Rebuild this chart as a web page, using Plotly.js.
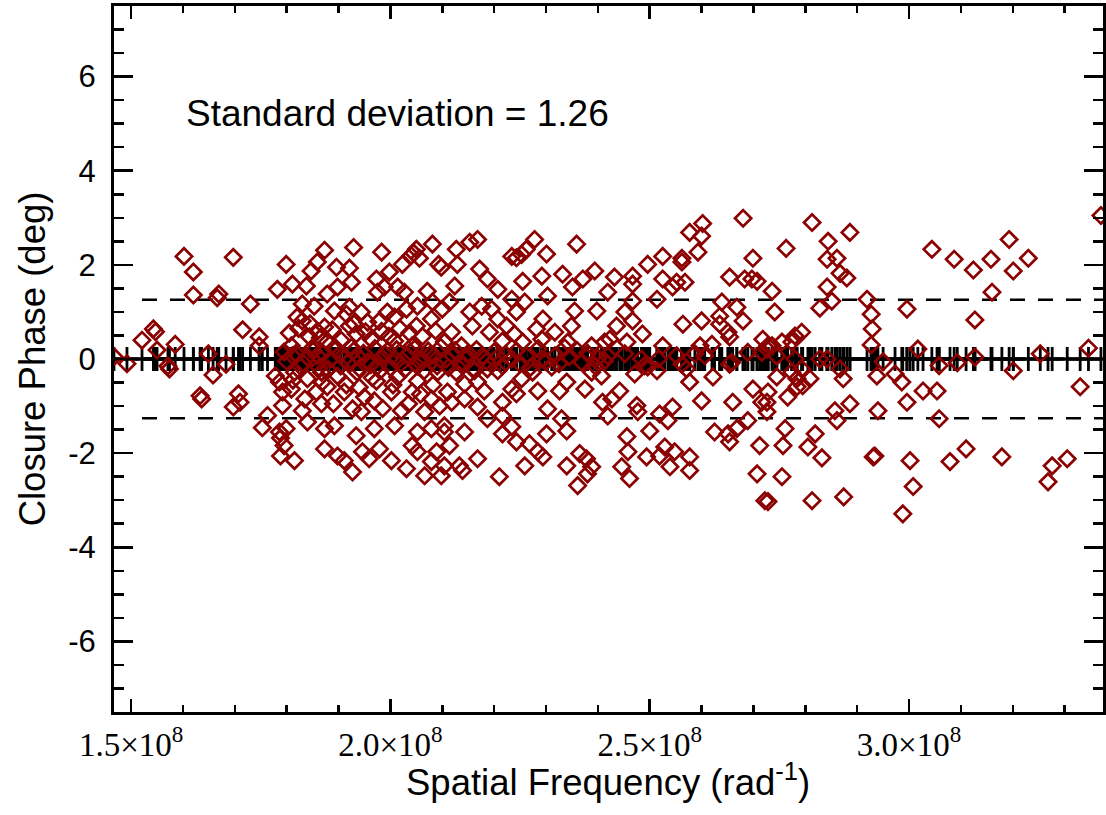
<!DOCTYPE html>
<html>
<head>
<meta charset="utf-8">
<script src="https://cdn.plot.ly/plotly-3.0.1.min.js"></script>
<style>html,body{margin:0;padding:0;background:#fff;}#chart{width:1106px;height:815px;}</style>
</head>
<body>
<div id="chart"></div>
<script>
// Spatial frequency in units of 1e8 rad^-1, closure phase in degrees
const freq = [
1.467,1.492,1.521,1.543,1.547,1.550,1.571,1.574,1.585,1.602,
1.620,1.620,1.633,1.636,1.649,1.658,1.666,1.669,1.683,1.697,
1.697,1.707,1.710,1.715,1.730,1.747,1.747,1.753,1.763,1.782,
1.786,1.788,1.788,1.778,1.786,1.792,1.792,1.799,1.795,
1.873,1.929,1.983,2.050,2.045,2.040,2.056,2.081,2.093,2.098,
1.859,1.847,1.896,1.921,1.811,1.838,1.878,1.898,1.925,1.973,
1.998,2.023,1.975,1.988,2.014,2.027,2.071,1.830,1.853,1.820,
1.830,1.859,1.873,1.892,1.915,1.944,1.921,1.956,1.994,2.008,
2.031,2.052,2.081,2.100,2.079,2.050,1.983,1.921,1.934,1.844,
1.809,1.878,1.963,2.008,2.042,2.104,
1.811,1.840,1.859,1.885,1.911,1.936,1.956,1.983,2.008,2.033,
2.060,2.085,2.108,1.851,1.929,1.994,2.073,1.826,1.904,1.975,
2.052,
1.815,1.840,1.867,1.898,1.936,1.973,2.014,2.052,2.091,1.809,
1.857,1.878,1.911,1.950,1.969,2.002,2.042,2.079,1.830,1.867,
1.927,1.944,2.021,2.066,1.799,1.840,1.873,1.892,1.934,1.969,
2.008,2.052,2.079,2.104,1.873,1.898,1.911,1.927,1.946,1.959,
1.979,1.815,2.002,2.031,2.042,2.052,2.066,2.079,2.098,2.089,
1.795,
2.168,2.153,2.127,2.129,2.172,2.234,2.243,2.253,2.262,2.278,
2.301,2.359,2.292,2.255,2.187,2.207,2.332,2.371,2.394,2.351,
2.303,2.259,2.234,2.114,2.124,2.176,2.195,2.243,2.355,2.398,
2.153,2.158,2.207,2.224,2.294,2.282,2.317,2.349,2.118,2.191,
2.239,2.216,2.255,2.292,2.342,2.388,2.413,2.137,
2.120,2.146,2.178,2.207,2.234,2.262,2.292,2.317,2.369,2.394,
2.413,2.166,2.243,2.336,2.139,2.216,
2.127,2.162,2.187,2.207,2.274,2.311,2.388,2.407,2.143,2.168,
2.181,2.253,2.234,2.243,2.284,2.340,2.326,2.375,2.409,2.110,
2.118,2.143,2.168,2.216,2.303,2.187,2.216,2.330,2.104,2.143,
2.234,2.114,2.216,2.243,2.268,2.284,2.294,2.301,2.340,2.168,
2.133,2.139,2.210,2.259,2.340,2.365,2.378,2.388,2.380,2.361,
2.104,
2.680,2.602,2.577,2.600,2.593,2.699,2.525,2.562,2.562,2.496,
2.432,2.467,2.467,2.525,2.544,2.568,2.552,2.654,2.683,2.697,
2.707,2.419,2.467,2.514,2.639,2.668,2.452,2.467,2.436,2.564,
2.600,2.635,2.635,2.651,2.654,2.680,2.486,2.525,2.456,2.423,
2.597,2.620,2.718,2.728,
2.419,2.452,2.484,2.517,2.552,2.587,2.606,2.658,2.689,2.716,
2.490,2.562,
2.471,2.496,2.514,2.571,2.622,2.654,2.577,2.442,2.427,2.419,
2.475,2.477,2.519,2.544,2.535,2.600,2.660,2.699,2.716,2.689,
2.625,2.651,2.668,2.654,2.500,2.456,2.458,2.494,2.519,2.529,
2.548,2.539,2.577,2.577,2.446,2.461,2.712,2.707,2.722,
2.813,2.886,2.763,2.844,2.842,2.861,2.867,2.880,2.842,2.851,
2.736,2.828,2.741,2.919,2.927,2.929,2.927,2.996,3.017,3.044,
2.780,2.793,2.755,2.736,2.726,2.774,2.745,2.780,2.828,2.842,
2.867,2.950,2.774,2.793,2.745,2.784,2.809,2.795,2.784,2.873,
2.938,2.973,2.986,3.027,2.728,2.726,2.766,2.886,2.857,2.861,
2.940,2.996,2.726,2.761,2.819,2.757,2.805,2.832,2.934,2.931,
3.002,3.008,2.755,2.728,2.813,2.874,2.988,
3.087,3.124,3.158,3.193,3.201,3.230,3.160,3.127,3.370,3.058,
3.093,3.127,3.201,3.253,3.346,3.054,3.330,3.058,3.079,3.110,
3.179,3.276,3.268,3.305,
1.800,1.818,1.833,1.848,1.862,1.870,1.880,1.893,1.902,1.918,
1.925,1.940,1.948,1.962,1.970,1.980,1.990,2.000,2.012,2.020,
2.028,2.038,2.047,2.058,2.065,2.077,2.090,2.097,2.112,2.125,
2.135,2.150,2.160,2.185,2.200,2.222,2.250,2.270,2.285,2.300,
2.325,2.345,2.360,2.380,2.400,
1.805,1.823,1.845,1.865,1.888,1.905,1.930,1.952,1.978,1.997,
2.018,2.037,2.062,2.087,
1.812,1.835,1.868,1.890,1.915,1.940,1.965,1.985,2.005,2.035,
2.058,2.082,2.095
];
const phase = [
0.05,-0.10,0.40,0.64,0.58,0.19,-0.15,-0.21,0.31,2.18,
1.85,1.36,-0.78,-0.85,0.11,-0.34,1.30,1.38,-0.11,2.16,
-1.02,-0.74,-0.92,0.62,1.17,0.47,0.28,-1.46,-1.20,1.48,
-1.55,-1.68,-2.06,-0.36,-0.49,-0.70,-0.99,2.01,0.15,
2.31,2.37,2.27,2.33,2.25,2.20,2.14,2.44,2.01,1.95,
2.06,1.87,1.95,1.93,1.59,1.55,1.38,1.53,1.63,1.70,
1.85,2.01,1.42,1.53,1.53,1.42,1.44,1.17,1.12,0.89,
0.81,0.59,0.68,1.02,0.95,1.00,1.10,0.78,1.00,0.89,
1.06,1.12,1.21,1.06,0.85,0.70,0.59,0.70,0.53,0.47,
0.28,0.36,0.42,0.38,0.28,0.36,
0.07,0.04,0.07,0.00,0.00,0.07,-0.07,0.04,0.00,0.07,
0.00,0.07,0.00,0.17,0.17,0.17,0.17,-0.15,-0.15,-0.15,
-0.15,
-0.28,-0.42,-0.28,-0.36,-0.28,-0.47,-0.38,-0.47,-0.28,-0.64,
-0.70,-0.59,-0.70,-0.81,-0.89,-0.70,-0.70,-0.85,-1.10,-0.95,
-1.06,-1.12,-1.10,-1.12,-1.48,-1.34,-1.48,-1.42,-1.63,-1.48,
-1.42,-1.55,-1.48,-1.55,-1.91,-2.06,-2.16,-2.40,-1.97,-2.12,
-1.91,-2.16,-2.16,-2.33,-1.84,-1.97,-2.48,-2.18,-2.48,-1.97,
-1.84,
2.54,2.48,2.33,2.01,1.91,2.18,2.15,2.22,2.33,2.54,
2.23,2.44,1.76,1.65,1.70,1.48,1.80,1.70,1.87,1.53,
1.34,1.21,1.27,1.21,1.55,1.12,1.06,1.00,1.02,1.02,
1.00,0.70,0.85,0.70,0.85,0.64,0.57,0.70,0.57,0.57,
0.53,0.38,0.36,0.42,0.36,0.28,0.36,0.28,
0.07,0.00,0.07,0.04,0.00,0.07,0.00,0.07,-0.07,-0.14,
-0.04,0.20,0.17,0.24,-0.14,-0.14,
-0.28,-0.25,-0.21,-0.25,-0.28,-0.17,-0.28,-0.36,-0.53,-0.49,
-0.68,-0.42,-0.64,-0.74,-0.68,-0.49,-0.68,-0.64,-0.92,-0.70,
-0.92,-0.85,-1.02,-0.92,-1.06,-1.27,-1.21,-1.27,-1.42,-1.55,
-1.44,-1.84,-1.59,-1.76,-1.80,-1.97,-2.08,-1.59,-1.53,-2.12,
-2.27,-2.37,-2.50,-2.27,-2.27,-2.01,-2.12,-2.29,-2.44,-2.69,
-2.27,
2.99,2.88,2.69,2.61,2.27,2.14,2.18,2.14,2.06,2.01,
1.74,1.76,1.59,1.70,1.53,1.63,1.63,1.74,1.70,1.70,
1.65,1.42,1.23,1.27,1.21,1.10,1.00,0.81,0.70,0.74,
0.81,0.91,0.74,0.57,0.47,0.81,0.53,0.28,0.36,0.42,
0.28,0.31,0.42,0.28,
0.07,0.11,0.00,0.00,0.07,0.11,0.07,-0.07,0.14,0.14,
-0.14,-0.11,
-0.32,-0.17,-0.25,-0.21,-0.38,-0.11,-0.49,-0.68,-0.85,-1.21,
-0.99,-1.12,-1.17,-1.02,-1.31,-0.89,-0.92,-0.64,-0.92,-1.31,
-1.55,-1.59,-1.48,-1.76,-1.53,-1.65,-1.97,-2.08,-2.06,-1.87,
-1.97,-2.29,-2.08,-2.37,-2.29,-2.54,-1.84,-2.44,-3.01,
2.90,2.69,2.35,2.50,2.12,2.14,1.82,1.72,1.53,1.23,
1.44,1.08,1.00,1.27,0.95,0.64,0.30,1.06,0.21,2.33,
0.49,0.57,0.36,0.28,0.21,0.36,0.06,0.00,0.00,0.00,
-0.21,-0.06,-0.28,-0.21,-0.38,-0.42,-0.42,-0.57,-0.59,-0.42,
-0.36,-0.32,-0.49,-0.68,-0.70,-0.92,-0.81,-0.95,-1.10,-1.31,
-1.10,-0.92,-1.12,-1.48,-1.59,-1.84,-1.87,-2.10,-2.06,-2.08,
-2.16,-2.71,-2.50,-3.03,-3.01,-2.93,-3.29,
2.12,1.89,2.12,2.54,1.87,2.14,1.42,0.83,3.05,-0.14,
-0.08,0.04,-0.25,0.11,0.23,-0.68,-0.59,-1.27,-2.18,-1.91,
-2.08,-2.27,-2.61,-2.12,
-0.05,0.12,-0.10,0.22,-0.18,0.12,-0.22,0.25,0.10,-0.08,
0.25,-0.20,0.12,-0.12,0.22,-0.25,0.10,-0.18,0.20,-0.10,
-0.22,0.15,0.22,-0.08,-0.25,0.10,-0.15,0.25,-0.18,0.18,
-0.10,0.12,-0.20,-0.05,0.15,0.10,-0.10,-0.18,0.22,-0.05,
-0.10,0.05,0.18,0.12,0.02,
0.55,0.65,0.75,0.45,0.62,0.40,0.75,0.58,0.80,0.48,
0.65,0.55,0.48,0.60,
-0.45,-0.85,-0.50,-0.95,-0.55,-0.60,-0.40,-1.05,-0.55,-0.95,
-0.75,-0.55,-1.00
];
// model closure phase (deg) at every observed frequency: zero (point source)
const modelPhaseValue = 0;
const stdDev = 1.26;
const xTickVals = [1.5, 2.0, 2.5, 3.0];
const xTickText = ['1.5×10<sup>8</sup>', '2.0×10<sup>8</sup>', '2.5×10<sup>8</sup>', '3.0×10<sup>8</sup>'];
const yTickVals = [-6, -4, -2, 0, 2, 4, 6];
const yTickText = ['-6', '-4', '-2', '0', '2', '4', '6'];
const xTitle = 'Spatial Frequency (rad<sup>-1</sup>)';
const yTitle = 'Closure Phase (deg)';

if (freq.length !== phase.length) console.error('length mismatch', freq.length, phase.length);

const modelTrace = {
  x: freq, y: freq.map(() => modelPhaseValue),
  type: 'scatter', mode: 'markers',
  marker: {symbol: 'cross-thin', size: 17, color: 'black', line: {width: 2.8, color: 'black'}},
  hoverinfo: 'skip'
};
const dataTrace = {
  x: freq, y: phase,
  type: 'scatter', mode: 'markers',
  marker: {symbol: 'diamond-open', size: 12.5, color: '#8B0000', line: {width: 2.7, color: '#8B0000'}}
};

const axisCommon = {
  showline: true, linewidth: 3, linecolor: 'black', mirror: 'allticks',
  ticks: 'inside', tickcolor: 'black', tickwidth: 2.5,
  showgrid: false, zeroline: false
};

const layout = {
  width: 1106, height: 815,
  margin: {l: 114, r: 3, t: 6, b: 103, pad: 0},
  paper_bgcolor: 'white', plot_bgcolor: 'white',
  showlegend: false,
  font: {family: 'Liberation Sans, Arial, sans-serif', color: 'black'},
  xaxis: Object.assign({}, axisCommon, {
    range: [1.467, 3.374],
    tickmode: 'array', tickvals: xTickVals, ticktext: xTickText,
    ticklen: 13,
    minor: {tickmode: 'linear', tick0: 1.5, dtick: 0.1, ticks: 'inside', ticklen: 7, tickwidth: 2.5, tickcolor: 'black', showgrid: false},
    tickfont: {family: 'Liberation Serif, Times New Roman, serif', size: 33, color: 'black'},
    ticklabelstandoff: 1
  }),
  yaxis: Object.assign({}, axisCommon, {
    range: [-7.5, 7.5],
    tickmode: 'array', tickvals: yTickVals, ticktext: yTickText,
    ticklen: 19,
    minor: {tickmode: 'linear', tick0: 0, dtick: 0.5, ticks: 'inside', ticklen: 10, tickwidth: 2.5, tickcolor: 'black', showgrid: false},
    tickfont: {size: 31, color: 'black'},
    ticklabelstandoff: 9,
    title: {text: yTitle, font: {size: 36.5, color: 'black'}, standoff: 12}
  }),
  shapes: [
    {type: 'line', xref: 'paper', yref: 'y', x0: 0, x1: 1, y0: modelPhaseValue, y1: modelPhaseValue, line: {color: 'black', width: 3}, layer: 'below'},
    {type: 'line', xref: 'paper', yref: 'y', x0: 0.0283, x1: 1, y0: stdDev, y1: stdDev, line: {color: 'black', width: 2.6, dash: '15px,13px'}, layer: 'below'},
    {type: 'line', xref: 'paper', yref: 'y', x0: 0.0283, x1: 1, y0: -stdDev, y1: -stdDev, line: {color: 'black', width: 2.6, dash: '15px,13px'}, layer: 'below'}
  ],
  annotations: [
    {text: 'Standard deviation = ' + stdDev.toFixed(2), xref: 'paper', yref: 'paper', x: 0.0708, y: 0.848,
     xanchor: 'left', yanchor: 'middle', showarrow: false, font: {size: 37, color: 'black'}},
    {text: xTitle, xref: 'paper', yref: 'paper', x: 0.4995, y: -0.097,
     xanchor: 'center', yanchor: 'middle', showarrow: false, font: {size: 36.5, color: 'black'}}
  ]
};

Plotly.newPlot('chart', [modelTrace, dataTrace], layout, {staticPlot: true, displayModeBar: false});
</script>
</body>
</html>
